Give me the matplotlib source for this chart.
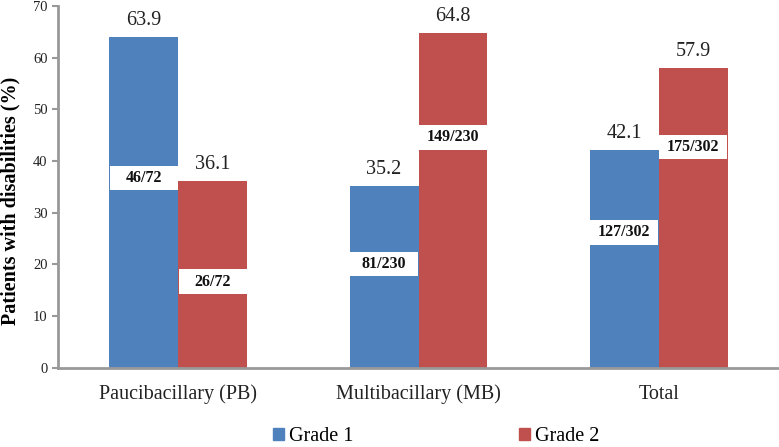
import numpy as np
import matplotlib.pyplot as plt
from matplotlib.patches import Patch

plt.rcParams['font.family'] = ['Liberation Serif', 'DejaVu Serif']

categories = ['Paucibacillary (PB)', 'Multibacillary (MB)', 'Total']
grade1 = [63.9, 35.2, 42.1]
grade2 = [36.1, 64.8, 57.9]
grade1_counts = ['46/72', '81/230', '127/302']
grade2_counts = ['26/72', '149/230', '175/302']
# vertical centre of the white count boxes
grade1_box_y = [36.7, 20.1, 26.2]
grade2_box_y = [16.7, 44.6, 42.7]

blue = '#4F81BD'
red = '#C0504D'
box_h = 4.8
w = 0.287

fig = plt.figure(figsize=(7.79, 4.47), dpi=100)
ax = fig.add_axes([0.0745, 0.177, 0.9255, 0.81])

x = np.arange(len(categories))
ax.bar(x - w / 2, grade1, w, color=blue, label='Grade 1')
ax.bar(x + w / 2, grade2, w, color=red, label='Grade 2')

for xs, vals, counts, ys in [(x - w / 2, grade1, grade1_counts, grade1_box_y),
                             (x + w / 2, grade2, grade2_counts, grade2_box_y)]:
    for xi, v, c, yb in zip(xs, vals, counts, ys):
        ax.annotate(f'{v:.1f}', (xi, v), xytext=(0, 5), textcoords='offset points',
                    ha='center', va='bottom', fontsize=14.5, color='#222222')
        ax.bar(xi, box_h, w * 0.99, bottom=yb - box_h / 2, color='white')
        ax.text(xi, yb, c, ha='center', va='center', fontsize=11.5,
                fontweight='bold', color='#111111')

ax.set_xlim(-0.5, 2.5)
ax.set_ylim(0, 70)
ax.set_yticks(range(0, 71, 10))
ax.set_xticks(x)
ax.set_xticklabels(categories, fontsize=14.5, color='#222222')
ax.tick_params(axis='x', length=0, pad=12)
ax.tick_params(axis='y', labelsize=10.5, colors='#999999', labelcolor='#222222',
               length=4, width=1.5)
ax.set_ylabel('Patients with disabilities (%)', fontsize=14.5, fontweight='bold')
ax.yaxis.set_label_coords(-0.052, 0.46)

for s in ['top', 'right']:
    ax.spines[s].set_visible(False)
for s in ['left', 'bottom']:
    ax.spines[s].set_color('#999999')
    ax.spines[s].set_linewidth(2)

handles = [Patch(color=blue, label='Grade 1'), Patch(color=red, label='Grade 2')]
fig.legend(handles=handles, loc='lower center', bbox_to_anchor=(0.56, -0.038), ncol=2,
           frameon=False, fontsize=14.5, handlelength=0.55, handleheight=0.55,
           handletextpad=0.25, columnspacing=8.2)

fig.savefig('out.png', dpi=100)
